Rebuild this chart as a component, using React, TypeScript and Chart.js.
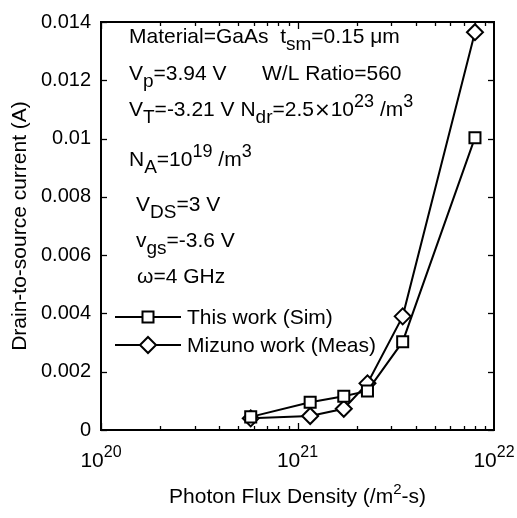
import React, { useEffect, useRef } from 'react';
import { Chart, registerables } from 'chart.js';

Chart.register(...registerables);

// ---- data ----
const fluxValues = [5.78e20, 1.16e21, 1.72e21, 2.27e21, 3.43e21, 8.0e21];
const simCurrent = [0.00045, 0.00095, 0.00116, 0.00134, 0.00303, 0.01003];
const measCurrent = [0.0004, 0.00048, 0.00073, 0.0016, 0.0039, 0.01365];
const seriesLabels = ['This work (Sim)', 'Mizuno work (Meas)'];
const seriesMarkers = ['rect', 'rectRot'];
const yTickValues = [0, 0.002, 0.004, 0.006, 0.008, 0.01, 0.012, 0.014];
const xDecades = [20, 21, 22];
const xTitle: [string, string][] = [['Photon Flux Density (/m', 'n'], ['2', 'sup'], ['-s)', 'n']];
const yTitle = 'Drain-to-source current (A)';

type Seg = [string, string];
const annotationTexts: Seg[][] = [
  [['Material=GaAs  t', 'n'], ['sm', 'sub'], ['=0.15 μm', 'n']],
  [['V', 'n'], ['p', 'sub'], ['=3.94 V', 'n']],
  [['W/L Ratio=560', 'n']],
  [['V', 'n'], ['T', 'sub'], ['=-3.21 V N', 'n'], ['dr', 'sub'], ['=2.5', 'n'], ['×', 'x'], ['10', 'n'], ['23', 'sup'], [' /m', 'n'], ['3', 'sup']],
  [['N', 'n'], ['A', 'sub'], ['=10', 'n'], ['19', 'sup'], [' /m', 'n'], ['3', 'sup']],
  [['V', 'n'], ['DS', 'sub'], ['=3 V', 'n']],
  [['v', 'n'], ['gs', 'sub'], ['=-3.6 V', 'n']],
  [['ω=4 GHz', 'n']],
];
// layout of annotation rows (pixel positions)
const annotationPos = [
  [129, 43], [129, 80], [262, 80], [129, 116], [129, 166], [136, 211], [136, 247], [137, 283],
];

const FONT = '"Liberation Sans", Arial, Helvetica, sans-serif';
const XFONT = '"DejaVu Sans", sans-serif';

const SIZES: Record<string, number> = { n: 21, sub: 19, sup: 18, x: 20 };
const OFFS: Record<string, number> = { n: 0, sub: 7, sup: -9, x: 0 };

function fontFor(k: string, size: number) {
  return `${size}px ${k === 'x' ? XFONT : FONT}`;
}

function richWidth(ctx: CanvasRenderingContext2D, segs: Seg[], sizes = SIZES) {
  let w = 0;
  for (const [t, k] of segs) {
    ctx.font = fontFor(k, sizes[k]);
    w += ctx.measureText(t).width;
  }
  return w;
}

function drawRich(ctx: CanvasRenderingContext2D, x: number, y: number, segs: Seg[], align = 'left', sizes = SIZES, offs = OFFS) {
  let cx = x;
  if (align === 'center') cx = x - richWidth(ctx, segs, sizes) / 2;
  ctx.textAlign = 'left';
  ctx.textBaseline = 'alphabetic';
  ctx.fillStyle = '#000';
  for (const [t, k] of segs) {
    ctx.font = fontFor(k, sizes[k]);
    ctx.fillText(t, cx, y + offs[k]);
    cx += ctx.measureText(t).width;
  }
}

function drawMarker(ctx: CanvasRenderingContext2D, kind: string, x: number, y: number) {
  ctx.save();
  ctx.fillStyle = '#fff';
  ctx.strokeStyle = '#000';
  ctx.lineWidth = 2;
  ctx.beginPath();
  if (kind === 'rect') {
    ctx.rect(x - 5.5, y - 5.5, 11, 11);
  } else {
    ctx.moveTo(x, y - 8);
    ctx.lineTo(x + 8, y);
    ctx.lineTo(x, y + 8);
    ctx.lineTo(x - 8, y);
    ctx.closePath();
  }
  ctx.fill();
  ctx.stroke();
  ctx.restore();
}

export default function App() {
  const ref = useRef<HTMLCanvasElement>(null);

  useEffect(() => {
    const canvas = ref.current!;

    const overlay = {
      id: 'overlay',
      afterDraw(chart: any) {
        const { ctx, chartArea: a, scales } = chart;
        const xs = scales.x;
        const ys = scales.y;
        ctx.save();
        ctx.strokeStyle = '#000';
        ctx.lineWidth = 1.3;
        const line = (x1: number, y1: number, x2: number, y2: number) => {
          ctx.beginPath(); ctx.moveTo(x1, y1); ctx.lineTo(x2, y2); ctx.stroke();
        };
        for (const v of yTickValues) {
          const py = Math.round(ys.getPixelForValue(v)) + 0.5;
          line(a.left, py, a.left + 6, py);
          line(a.right, py, a.right - 6, py);
        }
        for (let d = xDecades[0]; d < xDecades[xDecades.length - 1]; d++) {
          for (let m = 1; m <= 9; m++) {
            const px = Math.round(xs.getPixelForValue(m * Math.pow(10, d))) + 0.5;
            const len = m === 1 ? 7 : 4;
            line(px, a.bottom, px, a.bottom - len);
            line(px, a.top, px, a.top + len);
          }
        }
        // frame
        ctx.lineWidth = 2;
        ctx.strokeRect(a.left, a.top, a.right - a.left, a.bottom - a.top);

        // x tick labels
        for (const d of xDecades) {
          const px = xs.getPixelForValue(Math.pow(10, d));
          drawRich(ctx, px, a.bottom + 37, [['10', 'n'], [String(d), 'sup']], 'center', { n: 21, sup: 16, sub: 16 }, { n: 0, sup: -10, sub: 0 });
        }
        // x title
        drawRich(ctx, (a.left + a.right) / 2, a.bottom + 73, xTitle, 'center', { n: 21, sup: 15, sub: 15 }, { n: 0, sup: -9, sub: 0 });

        // annotations
        annotationTexts.forEach((segs, i) => {
          const [x, y] = annotationPos[i];
          drawRich(ctx, x, y, segs);
        });

        // legend
        const legY = [317, 345];
        seriesLabels.forEach((lab, i) => {
          ctx.strokeStyle = '#000';
          ctx.lineWidth = 2;
          line(115, legY[i], 181, legY[i]);
          drawMarker(ctx, seriesMarkers[i], 148, legY[i]);
          ctx.font = `21px ${FONT}`;
          ctx.fillStyle = '#000';
          ctx.textAlign = 'left';
          ctx.textBaseline = 'middle';
          ctx.fillText(lab, 187, legY[i] + 1);
        });
        ctx.restore();
      },
    };

    const chart = new Chart(canvas, {
      type: 'line',
      data: {
        datasets: [
          {
            label: seriesLabels[0],
            data: fluxValues.map((x, i) => ({ x, y: simCurrent[i] })),
            borderColor: '#000',
            borderWidth: 2,
            pointStyle: seriesMarkers[0],
            pointRadius: 7.8,
            pointBorderWidth: 2,
            pointBorderColor: '#000',
            pointBackgroundColor: '#fff',
            tension: 0,
          },
          {
            label: seriesLabels[1],
            data: fluxValues.map((x, i) => ({ x, y: measCurrent[i] })),
            borderColor: '#000',
            borderWidth: 2,
            pointStyle: seriesMarkers[1],
            pointRadius: 8,
            pointBorderWidth: 2,
            pointBorderColor: '#000',
            pointBackgroundColor: '#fff',
            tension: 0,
          },
        ],
      },
      options: {
        animation: false,
        responsive: false,
        devicePixelRatio: 1,
        layout: { padding: { top: 13, right: 23, left: 0, bottom: 0 } },
        plugins: { legend: { display: false }, tooltip: { enabled: false } },
        scales: {
          x: {
            type: 'logarithmic',
            min: 1e20,
            max: 1e22,
            grid: { display: false, drawTicks: false },
            border: { display: false },
            ticks: { display: false },
            afterFit: (s: any) => { s.height = 88; },
          },
          y: {
            type: 'linear',
            min: 0,
            max: 0.014,
            grid: { display: false, drawTicks: false },
            border: { display: false },
            ticks: {
              stepSize: 0.002,
              padding: 10,
              color: '#000',
              font: { family: FONT, size: 20 },
              callback: (v: any) => Number(v).toFixed(3).replace(/0+$/, '').replace(/\.$/, ''),
            },
            title: {
              display: true,
              text: yTitle,
              color: '#000',
              font: { family: FONT, size: 21 },
              padding: { top: 8, bottom: 0 },
            },
            afterFit: (s: any) => { s.width = 101; },
          },
        },
      },
      plugins: [overlay],
    } as any);
    return () => chart.destroy();
  }, []);

  return (
    <div style={{ position: 'absolute', left: 0, top: 0, width: 517, height: 518, background: '#fff' }}>
      <canvas ref={ref} width={517} height={518} style={{ width: 517, height: 518, display: 'block' }} />
    </div>
  );
}
